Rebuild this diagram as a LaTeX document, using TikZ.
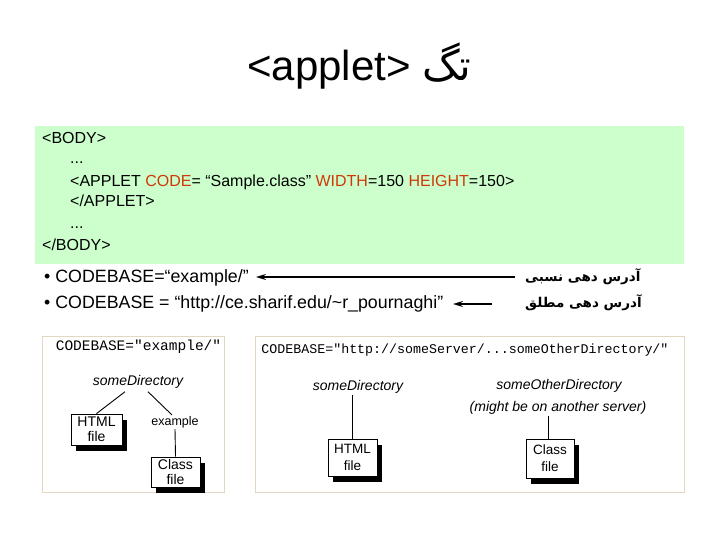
\documentclass[tikz,border=0pt]{standalone}
\usepackage{fontspec}
\setmainfont{Liberation Sans}
\setmonofont{Liberation Mono}
\newfontfamily\arabicfont[Script=Arabic]{DejaVu Sans}
\TeXXeTstate=1
\usetikzlibrary{arrows.meta,shadows,calc}
\definecolor{codegreen}{RGB}{204,255,204}
\definecolor{codered}{RGB}{208,56,8}
\definecolor{framebeige}{RGB}{226,216,194}
\tikzset{
  codeline/.style={anchor=base west,inner sep=0pt,font=\fontsize{16}{19}\selectfont},
  bulletline/.style={anchor=base west,inner sep=0pt,font=\fontsize{17.8}{21}\selectfont},
  fatext/.style={anchor=base west,inner sep=0pt,font=\fontsize{13.5}{16}\selectfont\arabicfont\bfseries},
  arr/.style={line width=1.5pt,-{Stealth[length=10pt,width=6pt]}},
  imgframe/.style={draw=framebeige,line width=1pt,fill=white,inner sep=0pt,anchor=north west},
  dirlabel/.style={font=\fontsize{14}{16}\selectfont\itshape,inner sep=1pt},
  monolabel/.style={inner sep=0pt},
  filebox/.style={draw=black,fill=white,line width=0.8pt,inner sep=0pt,align=center,
    drop shadow={shadow xshift=5pt,shadow yshift=-6pt,fill=black,opacity=1}},
  treeline/.style={line width=0.9pt}
}
\begin{document}
\begin{tikzpicture}[x=1pt,y=-1pt]
\useasboundingbox (0,0) rectangle (720,540);
\fill[white] (0,0) rectangle (720,540);
% title
\node[font=\fontsize{42}{48}\selectfont,inner sep=0pt,anchor=base west] (title) at (247,81) {<applet> {\arabicfont\beginR تگ\endR}};
% code box
\node[fill=codegreen,inner sep=0pt,minimum width=649pt,minimum height=138pt,anchor=north west] (codebox) at (35,126) {};
\node[codeline] (body1) at (42,144) {<BODY>};
\node[codeline] (dots1) at (70,164) {...};
\node[codeline] (applet) at (70,187) {<APPLET \textcolor{codered}{CODE}= “Sample.class" \textcolor{codered}{WIDTH}=150 \textcolor{codered}{HEIGHT}=150>};
\node[codeline] (applet2) at (70,207) {</APPLET>};
\node[codeline] (dots2) at (70,229) {...};
\node[codeline] (body2) at (42,251) {</BODY>};
% bullets
\node[bulletline] (b1) at (44,282) {• CODEBASE=“example/”};
\node[bulletline] (b2) at (44,308) {• CODEBASE = “http://ce.sharif.edu/\textasciitilde r\_pournaghi”};
\node[fatext] (fa1) at (525,281) {\beginR آدرس دهی نسبی\endR};
\node[fatext] (fa2) at (525,307) {\beginR آدرس دهی مطلق\endR};
\coordinate (a1s) at (515,277);
\coordinate (a1e) at (256,277);
\coordinate (a2s) at (492,304);
\coordinate (a2e) at (453,304);
\draw[arr] (a1s) -- (a1e);
\draw[arr] (a2s) -- (a2e);
% left image
\node[imgframe,minimum width=182pt,minimum height=156pt] (limg) at (42,336) {};
\node[monolabel,font=\fontsize{14.5}{16}\ttfamily] (lcb) at (138.5,347) {CODEBASE="example/"};
\node[dirlabel] (ldir) at (138,382) {someDirectory};
\node[filebox,font=\fontsize{14}{15}\selectfont,minimum width=51pt,minimum height=31pt] (lhtml) at (96.5,429.5) {HTML\\file};
\node[font=\fontsize{12.5}{14}\selectfont,inner sep=1pt] (lex) at (175,422) {example};
\node[filebox,font=\fontsize{14}{15}\selectfont,minimum width=49pt,minimum height=30pt] (lclass) at (175.5,472) {Class\\file};
\draw[treeline] ($(ldir.south)+(-13,2)$) -- (lhtml.north);
\draw[treeline] ($(ldir.south)+(10,2)$) -- ($(lex.north)+(-3,0)$);
\draw[treeline] (lex.south) -- (lclass.north);
% right image
\node[imgframe,minimum width=429pt,minimum height=156pt] (rimg) at (255,336) {};
\node[monolabel,font=\fontsize{13.3}{15}\ttfamily] (rcb) at (465,350) {CODEBASE="http://someServer/...someOtherDirectory/"};
\node[dirlabel] (rdir) at (358,387) {someDirectory};
\node[dirlabel] (rother) at (559,386) {someOtherDirectory};
\node[dirlabel] (rmight) at (558,408) {(might be on another server)};
\node[filebox,font=\fontsize{13.5}{17}\selectfont,minimum width=49pt,minimum height=37pt] (rhtml) at (352.5,457.5) {HTML\\file};
\node[filebox,font=\fontsize{13.5}{17}\selectfont,minimum width=48pt,minimum height=39pt] (rclass) at (550,458.5) {Class\\file};
\draw[treeline] (rhtml.north) -- (rhtml.north |- rdir.south);
\draw[treeline] ($(rclass.north)+(-2,0)$) -- ($(rclass.north |- rmight.south)+(-2,0)$);
\end{tikzpicture}
\end{document}
